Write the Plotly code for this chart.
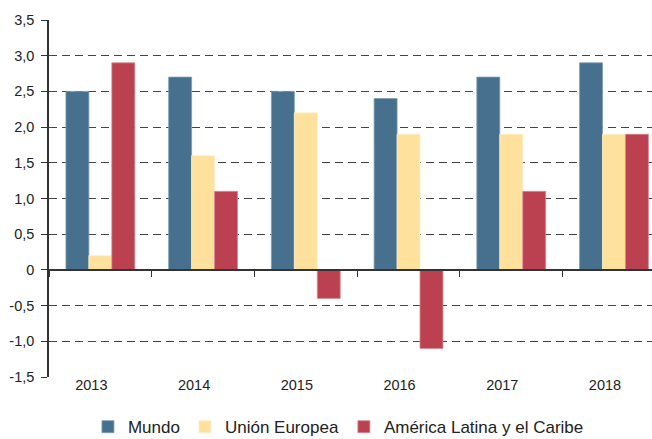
import plotly.graph_objects as go

years = ["2013", "2014", "2015", "2016", "2017", "2018"]
mundo = [2.5, 2.7, 2.5, 2.4, 2.7, 2.9]
union_europea = [0.2, 1.6, 2.2, 1.9, 1.9, 1.9]
america_latina = [2.9, 1.1, -0.4, -1.1, 1.1, 1.9]

y_ticks = [-1.5, -1.0, -0.5, 0, 0.5, 1.0, 1.5, 2.0, 2.5, 3.0, 3.5]
y_ticklabels = ["-1,5", "-1,0", "-0,5", "0", "0,5", "1,0", "1,5", "2,0", "2,5", "3,0", "3,5"]

series = [
    ("Mundo", mundo, "#46708D", "#7d9cb3"),
    ("Unión Europea", union_europea, "#FEE19C", "#fff0c8"),
    ("América Latina y el Caribe", america_latina, "#BC4150", "#d98892"),
]

fig = go.Figure()
for name, vals, color, edge in series:
    fig.add_trace(go.Bar(
        x=years, y=vals, name=name,
        marker=dict(color=color, line=dict(color=edge, width=0.8)),
    ))

# invisible helper trace for the zero-line axis with boundary ticks
fig.add_trace(go.Scatter(
    x=years, y=[0] * len(years), xaxis="x2", mode="lines",
    line=dict(width=0), showlegend=False, hoverinfo="skip",
))

y_min, y_max = -1.5, 3.5
zero_pos = (0 - y_min) / (y_max - y_min)

fig.update_layout(
    width=652, height=439,
    margin=dict(l=49, r=0, t=20, b=62, autoexpand=False),
    paper_bgcolor="white", plot_bgcolor="white",
    font=dict(family="Liberation Sans, Arial, sans-serif", color="#222222", size=14.5),
    barmode="group", bargap=0.33, bargroupgap=0,
    xaxis=dict(
        type="category", range=[-0.5, 5.37],
        showline=False, showgrid=False, ticks="", zeroline=False,
        tickfont=dict(size=14.5), automargin=False,
        ticklabelshift=-9, ticklabelstandoff=-3,
    ),
    xaxis2=dict(
        type="category", overlaying="x", matches="x", anchor="free", position=zero_pos,
        side="bottom",
        showline=True, linecolor="#333333", linewidth=1.5,
        ticks="outside", tickson="boundaries", ticklen=6, tickcolor="#333333", tickwidth=1,
        showticklabels=False, showgrid=False, zeroline=False, automargin=False,
    ),
    yaxis=dict(
        range=[y_min, y_max], tickvals=y_ticks, ticktext=y_ticklabels,
        showline=True, linecolor="#333333", linewidth=1.5,
        ticks="outside", ticklen=6, tickcolor="#333333",
        showgrid=True, gridcolor="#444444", gridwidth=1, griddash="8px,5px",
        zeroline=False, tickfont=dict(size=14.5), ticklabelstandoff=4, automargin=False,
    ),
    legend=dict(
        orientation="h", x=0.48, xanchor="center", y=-0.09, yanchor="top",
        font=dict(size=17), itemwidth=30, traceorder="normal",
    ),
)

fig.write_html(
    "out.html",
    config={"displayModeBar": False},
    post_script="document.body.style.margin='0';document.body.style.overflow='hidden';",
)
